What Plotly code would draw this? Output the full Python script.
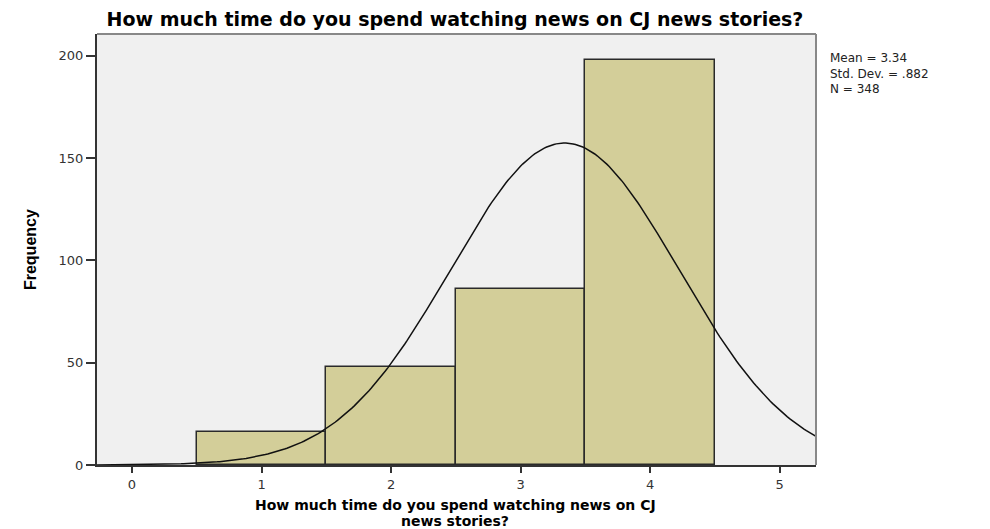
import numpy as np
import plotly.graph_objects as go

# histogram bins (centres) and counts
bin_centers = [1, 2, 3, 4]
counts = [16, 48, 86, 198]

# summary stats shown next to the chart
mean = 3.34
std_dev = 0.882
n = 348

x_ticks = [0, 1, 2, 3, 4, 5]
y_ticks = [0, 50, 100, 150, 200]

# fitted normal curve from the reported mean / sd / N (bin width 1)
curve_x = np.linspace(-0.27, 5.28, 300)
curve_y = n / (std_dev * np.sqrt(2 * np.pi)) * np.exp(-0.5 * ((curve_x - mean) / std_dev) ** 2)

WIDE = "DejaVu Sans, Verdana, sans-serif"

fig = go.Figure()

fig.add_trace(go.Bar(x=bin_centers, y=counts, width=1,
                     marker=dict(color="#D3CE99", line=dict(color="#2a2a2a", width=1.5)),
                     showlegend=False))

fig.add_trace(go.Scatter(x=curve_x, y=curve_y, mode="lines",
                         line=dict(color="#111111", width=1.5), showlegend=False))

# page body adds 8px, so margins are shifted to compensate
fig.update_layout(
    width=990, height=529,
    margin=dict(l=89, r=182, t=26, b=72),
    paper_bgcolor="white",
    plot_bgcolor="#F0F0F0",
    font=dict(family=WIDE, color="#222222"),
    title=dict(text="<b>How much time do you spend watching news on CJ news stories?</b>",
               x=0.4515, xanchor="center", y=0.979, yanchor="middle",
               font=dict(size=19, color="black", family=WIDE)),
    bargap=0,
)

fig.update_xaxes(range=[-0.27, 5.28], tickvals=x_ticks, ticks="outside", ticklen=6,
                 tickwidth=2, tickcolor="#333333", showgrid=False, zeroline=False,
                 showline=True, linecolor="#333333", linewidth=2, mirror=False,
                 tickfont=dict(size=13, color="#333333"))
fig.update_yaxes(range=[0, 210.7], tickvals=y_ticks, ticks="outside", ticklen=9,
                 tickwidth=2, tickcolor="#333333", showgrid=False, zeroline=False,
                 showline=True, linecolor="#333333", linewidth=2,
                 tickfont=dict(size=13, color="#333333"))

# top / right frame in grey
fig.add_shape(type="line", xref="paper", yref="paper", x0=0, x1=1, y0=1, y1=1,
              line=dict(color="#888888", width=2))
fig.add_shape(type="line", xref="paper", yref="paper", x0=1, x1=1, y0=0, y1=1,
              line=dict(color="#888888", width=2))

# x-axis title, two tightly spaced lines
fig.add_annotation(xref="paper", yref="paper", x=0.498, y=-0.0928, yanchor="middle",
                   text="<b>How much time do you spend watching news on CJ</b>",
                   showarrow=False, borderpad=0, font=dict(size=14, color="black", family=WIDE))
fig.add_annotation(xref="paper", yref="paper", x=0.498, y=-0.1299, yanchor="middle",
                   text="<b>news stories?</b>",
                   showarrow=False, borderpad=0, font=dict(size=14, color="black", family=WIDE))
fig.add_annotation(xref="paper", yref="paper", x=-0.107, y=0.5, textangle=-90,
                   text="<b>Frequency</b>", showarrow=False,
                   font=dict(size=16, family="Liberation Sans Narrow, Arial Narrow, sans-serif", color="black"))
fig.add_annotation(xref="paper", yref="paper", x=1.0167, xanchor="left", y=0.965, yanchor="top",
                   align="left",
                   text="Mean = %.2f<br>Std. Dev. = .882<br>N = %d" % (mean, n),
                   showarrow=False, font=dict(size=12, color="#222222", family=WIDE))

fig.write_html("out.html")
